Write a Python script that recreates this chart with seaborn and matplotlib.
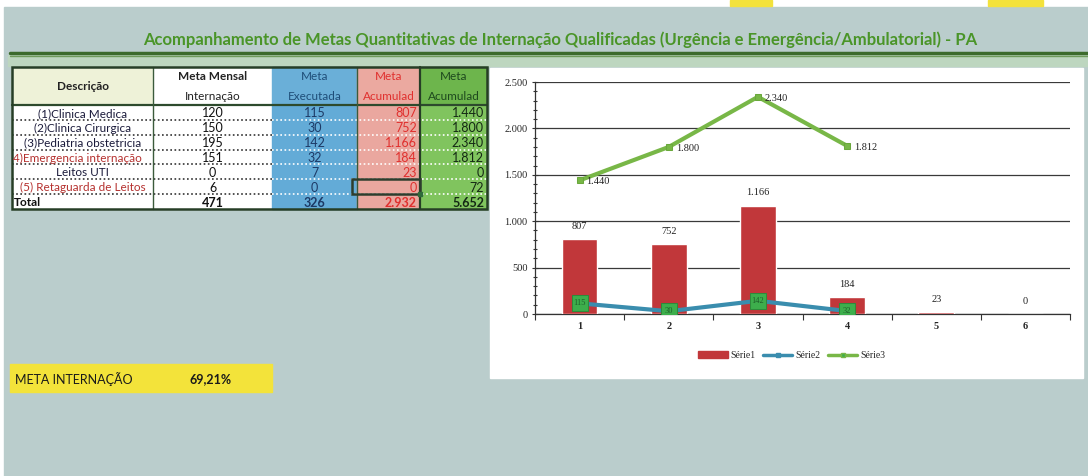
import numpy as np
import pandas as pd
import seaborn as sns
import matplotlib.pyplot as plt
from matplotlib.patches import Rectangle
from matplotlib.lines import Line2D

# dados da planilha
descricao = ["(1)Clinica Medica", "(2)Clinica Cirurgica", "(3)Pediatria obstetricia",
             "4)Emergencia internação", "Leitos UTI", "(5) Retaguarda de Leitos", "Total"]
meta_mensal = [120, 150, 195, 151, 0, 6, 471]
meta_executada = [115, 30, 142, 32, 7, 0, 326]
meta_acum_vermelha = [807, 752, 1166, 184, 23, 0, 2932]
meta_acum_verde = [1440, 1800, 2340, 1812, 0, 72, 5652]
meta_internacao = "69,21%"

categorias = ["1", "2", "3", "4", "5", "6"]
serie1 = meta_acum_vermelha[:6]
serie2 = meta_executada[:4]
serie3 = meta_acum_verde[:4]

titulo = "Acompanhamento de Metas Quantitativas de Internação Qualificadas (Urgência e Emergência/Ambulatorial) - PA"

W, H = 1088, 476

sns.set_theme(style="white")
plt.rcParams['font.family'] = ['Lato', 'DejaVu Sans']


def fmt(v):
    return f"{v:,}".replace(",", ".")


fig = plt.figure(figsize=(W / 100, H / 100), dpi=100)
bg = fig.add_axes([0, 0, 1, 1])
bg.set_xlim(0, W)
bg.set_ylim(H, 0)
bg.axis("off")

# fundo
bg.add_patch(Rectangle((0, 0), W, H, color="white", zorder=0))
bg.add_patch(Rectangle((4, 7), W - 4, H - 7, color="#BACDCC", zorder=0))
bg.add_patch(Rectangle((730, 0), 42, 6, color="#F3E23C", zorder=1))
bg.add_patch(Rectangle((988, 0), 55, 6, color="#F3E23C", zorder=1))
bg.add_patch(Rectangle((8, 55), W - 8, 11, color="#BDD6BF", zorder=1))
bg.plot([10, W], [52.5, 52.5], color="#3C6A2C", lw=2.5, zorder=2)
bg.plot([10, W], [55.5, 55.5], color="#6E9A5A", lw=1, zorder=2)

bg.text(560, 40, titulo, ha="center", va="center", fontsize=12, fontweight="bold",
        color="#4A9528", zorder=3)

# tabela
cols = [12, 153, 272, 357, 420, 487]
top, head_bot, bot = 67, 105, 209
rh = (bot - head_bot) / 7

col_bg = ["white", "white", "#63ABD7", "#EAA79F", "#80C45E"]
head_bg = ["#EEF2D8", "white", "#6AAFD8", "#EBA9A0", "#6DB54C"]
for i in range(5):
    x0, x1 = cols[i], cols[i + 1]
    bg.add_patch(Rectangle((x0, top), x1 - x0, head_bot - top, color=head_bg[i], zorder=1))
    bg.add_patch(Rectangle((x0, head_bot), x1 - x0, bot - head_bot, color=col_bg[i], zorder=1))

fs = 8.5
bg.text((cols[0] + cols[1]) / 2, 87, "Descrição", ha="center", va="center", fontsize=fs,
        fontweight="bold", color="#222222", zorder=4)
cab = [("Meta Mensal", "Internação", "#222222"), ("Meta", "Executada", "#1F4E79"),
       ("Meta", "Acumulad", "#E0302E"), ("Meta", "Acumulad", "#1E4A1E")]
for i, (a, b, c) in enumerate(cab):
    xc = (cols[i + 1] + cols[i + 2]) / 2
    wt = "bold" if i == 0 else "normal"
    bg.text(xc, 77, a, ha="center", va="center", fontsize=fs, color=c, fontweight=wt, zorder=4)
    bg.text(xc, 97, b, ha="center", va="center", fontsize=fs, color=c, zorder=4)

cores_desc = ["#1A1A3A", "#1A1A3A", "#1A1A3A", "#B5302E", "#1A1A3A", "#B5302E", "#111111"]
for r in range(7):
    yc = head_bot + rh * (r + 0.5) + 1
    if r == 6:
        bg.text(14, yc, descricao[r], ha="left", va="center", fontsize=fs,
                fontweight="bold", color=cores_desc[r], zorder=4)
    elif r == 3:
        t = bg.text(13, yc, descricao[r], ha="left", va="center", fontsize=fs,
                    color=cores_desc[r], zorder=4)
        clip = Rectangle((cols[0], head_bot), cols[1] - cols[0], bot - head_bot,
                         transform=bg.transData)
        t.set_clip_path(clip)
    else:
        bg.text((cols[0] + cols[1]) / 2, yc, descricao[r], ha="center", va="center",
                fontsize=fs, color=cores_desc[r], zorder=4)
    wt = "bold" if r == 6 else "normal"
    bg.text((cols[1] + cols[2]) / 2, yc, fmt(meta_mensal[r]), ha="center", va="center",
            fontsize=fs + 0.5, color="#111111", fontweight=wt, zorder=4)
    bg.text((cols[2] + cols[3]) / 2, yc, fmt(meta_executada[r]), ha="center", va="center",
            fontsize=fs + 0.5, color="#1D3A66", fontweight=wt, zorder=4)
    bg.text(cols[4] - 3, yc, fmt(meta_acum_vermelha[r]), ha="right", va="center",
            fontsize=fs + 0.5, color="#E0302E", fontweight=wt, zorder=4)
    bg.text(cols[5] - 3, yc, fmt(meta_acum_verde[r]), ha="right", va="center",
            fontsize=fs + 0.5, color="#142814", fontweight=wt, zorder=4)

# linhas da tabela
for r in range(1, 7):
    y = head_bot + rh * r
    bg.plot([cols[0], cols[2]], [y, y], color="#333333", lw=1.2, ls=(0, (1, 1.5)), zorder=3)
    bg.plot([cols[2], cols[5]], [y, y], color="white", lw=1.2, ls=(0, (1, 1.5)), zorder=3)
bg.plot([cols[0], cols[5]], [head_bot, head_bot], color="#2D4A2D", lw=1.6, zorder=3)
for x in [cols[1], cols[3]]:
    bg.plot([x, x], [top, bot], color="#3B5B3B", lw=1, zorder=3)
bg.plot([cols[4], cols[4]], [top, bot], color="#263E26", lw=1.6, zorder=3)
bg.add_patch(Rectangle((cols[0], top), cols[5] - cols[0], bot - top, fill=False,
                       ec="#263E26", lw=1.8, zorder=3))
# celula selecionada
ys = head_bot + rh * 5
bg.add_patch(Rectangle((cols[3] - 5, ys), cols[4] - cols[3] + 5, rh, fill=False,
                       ec="#2D3D2D", lw=1.8, zorder=4))
bg.add_patch(Rectangle((cols[4] - 2, ys + rh - 2), 4, 4, color="#2E6B3A", zorder=5))

# meta internacao
bg.add_patch(Rectangle((10, 364), 262, 28, color="#F3E33A", zorder=1))
bg.text(15, 379, "META INTERNAÇÃO", ha="left", va="center", fontsize=9,
        color="#1A1A1A", zorder=4)
bg.text(190, 379, meta_internacao, ha="left", va="center", fontsize=9,
        fontweight="bold", color="#1A1A1A", zorder=4)

# painel do grafico
bg.add_patch(Rectangle((490, 68), 593, 310, color="white", zorder=1))

ax = fig.add_axes([535 / W, (H - 314) / H, 535 / W, 232 / H])
ax.set_facecolor("none")
df = pd.DataFrame({"cat": categorias, "valor": serie1})
sns.barplot(data=df, x="cat", y="valor", color="#C1373A", width=0.4, saturation=1,
            ax=ax, zorder=3)
x2 = np.arange(len(serie2))
x3 = np.arange(len(serie3))
sns.lineplot(x=x3, y=serie3, ax=ax, color="#78B747", lw=3, marker="s", markersize=5,
             markeredgecolor="#6AA83C", zorder=4)
sns.lineplot(x=x2, y=serie2, ax=ax, color="#3A8DAE", lw=3, marker="s", markersize=12,
             markerfacecolor="#3DAE4C", markeredgecolor="#2E8A3A", zorder=5)

serif = ['Liberation Serif', 'DejaVu Serif']
for i, v in enumerate(serie1):
    ax.annotate(fmt(v), (i, v), xytext=(0, 6), textcoords="offset points", ha="center",
                va="bottom", fontsize=7.5, family=serif, color="#222222", zorder=6)
for i, v in enumerate(serie3):
    ax.annotate(fmt(v), (i, v), xytext=(5, -1), textcoords="offset points", ha="left",
                va="center", fontsize=7.5, family=serif, color="#222222", zorder=6)
for i, v in enumerate(serie2):
    ax.annotate(fmt(v), (i, v), ha="center", va="center", fontsize=6, family=serif,
                color="#1E5E2A", zorder=7)

ax.set_xlim(-0.5, 5.5)
ax.set_ylim(0, 2500)
ax.set_yticks(range(0, 2501, 500))
ax.set_yticklabels([fmt(v) for v in range(0, 2501, 500)], family=serif, fontsize=7.5)
ax.set_yticks(range(0, 2501, 100), minor=True)
ax.set_xticks(range(6))
ax.set_xticklabels(categorias, family=serif, fontsize=7.5, fontweight="bold")
ax.set_xticks(np.arange(-0.5, 6, 1), minor=True)
ax.tick_params(axis="y", which="both", left=True, length=3, width=0.8, color="#333333",
               direction="inout", pad=3)
ax.tick_params(axis="y", which="major", length=5)
ax.tick_params(axis="x", which="both", bottom=True, length=4, width=0.8, color="#333333",
               direction="out", pad=6)
ax.tick_params(axis="x", which="major", length=0)
ax.set_xlabel("")
ax.set_ylabel("")
ax.grid(axis="y", which="major", color="#3A3A3A", lw=0.9)
ax.set_axisbelow(True)
for s in ["top", "right"]:
    ax.spines[s].set_visible(False)
ax.spines["left"].set_color("#333333")
ax.spines["bottom"].set_color("#333333")
ax.spines["left"].set_linewidth(0.9)
ax.spines["bottom"].set_linewidth(0.9)

handles = [Rectangle((0, 0), 1, 1, color="#C1373A"),
           Line2D([], [], color="#3A8DAE", lw=2.5, marker="s", markersize=3.5,
                  markerfacecolor="#3A8DAE"),
           Line2D([], [], color="#78B747", lw=2.5, marker="s", markersize=3.5,
                  markerfacecolor="#3DAE4C")]
ax.legend(handles, ["Série1", "Série2", "Série3"], loc="center", ncol=3, frameon=False,
          bbox_to_anchor=(0.48, -0.18), prop={"family": serif, "size": 7},
          handlelength=3, handletextpad=0.3, columnspacing=0.8)

fig.savefig("out.png", dpi=100)
